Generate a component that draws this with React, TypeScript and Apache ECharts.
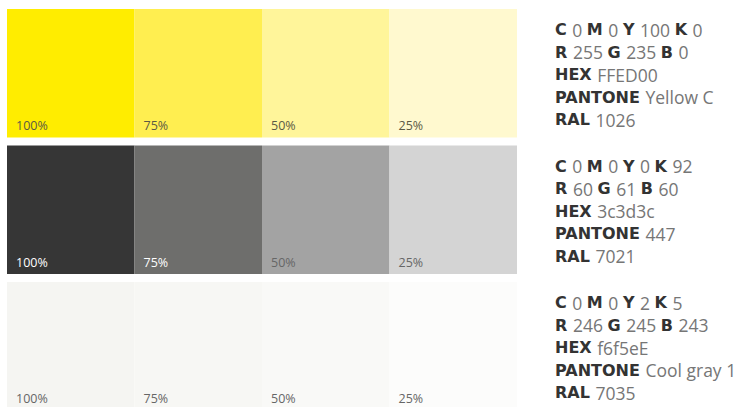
import React, { useEffect, useRef } from "react";
import * as echarts from "echarts";

const shades = ["100%", "75%", "50%", "25%"];
const colorNames = ["Yellow", "Anthracite", "Light grey"];
const yellowTints = ["#FFED00", "#FFEE50", "#FFF59A", "#FFF9CF"];
const greyTints = ["#363636", "#6E6E6C", "#A3A3A3", "#D4D4D4"];
const lightTints = ["#F5F5F2", "#F7F7F4", "#F9F9F7", "#FCFCFB"];
const cmyk = [
  [0, 0, 100, 0],
  [0, 0, 0, 92],
  [0, 0, 2, 5],
];
const rgb = [
  [255, 235, 0],
  [60, 61, 60],
  [246, 245, 243],
];
const hex = ["FFED00", "3c3d3c", "f6f5eE"];
const pantone = ["Yellow C", "447", "Cool gray 1"];
const ral = ["1026", "7021", "7035"];

const tintRows = [yellowTints, greyTints, lightTints];

export default function App() {
  const ref = useRef<HTMLDivElement>(null);
  useEffect(() => {
    if (!ref.current) return;
    const chart = echarts.init(ref.current, null, { renderer: "svg" });
    const cells: any[] = [];
    tintRows.forEach((row, r) =>
      row.forEach((color, c) => cells.push({ value: [c, r], color }))
    );
    const labelColor = (c: number, r: number) => {
      if (r === 1) return c < 2 ? "#ffffff" : "#666666";
      if (r === 0) return "#5b5a45";
      return "#666666";
    };
    const fmt = (r: number) => {
      const [C, M, Y, K] = cmyk[r];
      const [R, G, B] = rgb[r];
      return [
        `{b|C }{v|${C} }{b|M }{v|${M} }{b|Y }{v|${Y} }{b|K }{v|${K}}`,
        `{b|R }{v|${R} }{b|G }{v|${G} }{b|B }{v|${B}}`,
        `{b|HEX }{v|${hex[r]}}`,
        `{b|PANTONE }{v|${pantone[r]}}`,
        `{b|RAL }{v|${ral[r]}}`,
      ].join("\n");
    };
    chart.setOption({
      animation: false,
      grid: {
        left: 7,
        top: 9,
        width: 510,
        height: 409.5,
        outerBoundsMode: "none",
        containLabel: false,
      },
      xAxis: {
        type: "category",
        data: shades,
        show: false,
      },
      yAxis: {
        type: "category",
        data: colorNames,
        inverse: true,
        position: "right",
        axisLine: { show: false },
        axisTick: { show: false },
        splitLine: { show: false },
        axisLabel: {
          margin: 38,
          align: "left",
          padding: [0, 0, 5, 0],
          formatter: (_v: string, i: number) => fmt(i),
          rich: {
            b: {
              fontFamily: "DejaVu Sans",
              fontWeight: "bold",
              fontSize: 16,
              color: "#333333",
              lineHeight: 22.5,
            },
            v: {
              fontFamily: "Open Sans",
              fontSize: 17.5,
              color: "#767676",
              lineHeight: 22.5,
            },
          },
        },
      },
      series: [
        {
          type: "custom",
          data: cells,
          renderItem: (params: any, api: any) => {
            const c = api.value(0);
            const r = api.value(1);
            const pt = api.coord([c, r]);
            const sz = api.size([1, 1]);
            const x = pt[0] - sz[0] / 2;
            const y = pt[1] - sz[1] / 2;
            const w = sz[0];
            const h = sz[1] - 8;
            return {
              type: "group",
              children: [
                {
                  type: "rect",
                  shape: { x, y, width: w, height: h },
                  style: { fill: cells[params.dataIndex].color },
                },
                {
                  type: "text",
                  x: x + 9,
                  y: y + h - 12,
                  style: {
                    text: shades[c],
                    fill: labelColor(c, r),
                    font: '12.5px "Open Sans"',
                    verticalAlign: "middle",
                  },
                },
              ],
            };
          },
        },
      ],
    });
    return () => chart.dispose();
  }, []);
  return (
    <div
      ref={ref}
      style={{ position: "fixed", left: 0, top: 0, width: 742, height: 407, background: "#fff" }}
    />
  );
}
